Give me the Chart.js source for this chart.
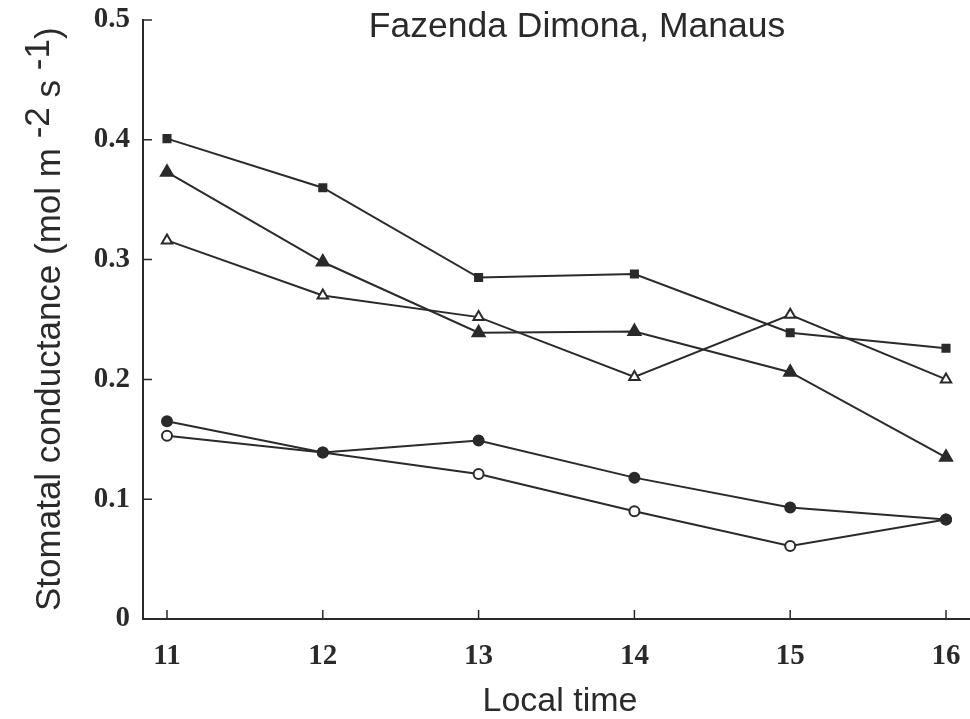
<!DOCTYPE html>
<html>
<head>
<meta charset="utf-8">
<script src="https://cdn.jsdelivr.net/npm/chart.js@4.4.1/dist/chart.umd.min.js"></script>
<style>
  body { margin: 0; background: #fff; }
  #wrap { width: 970px; height: 719px; }
</style>
</head>
<body>
<div id="wrap"><canvas id="chart" width="970" height="719"></canvas></div>
<script>
// local time (h)
const hours = [11, 12, 13, 14, 15, 16]
const yTicks = [0, 0.1, 0.2, 0.3, 0.4, 0.5]

// stomatal conductance, mol m-2 s-1
const filledSquare   = [0.401, 0.360, 0.285, 0.288, 0.239, 0.226]
const filledTriangle = [0.373, 0.298, 0.239, 0.240, 0.206, 0.135]
const openTriangle   = [0.316, 0.270, 0.252, 0.202, 0.254, 0.200]
const filledCircle   = [0.165, 0.139, 0.149, 0.118, 0.093, 0.083]
const openCircle     = [0.153, 0.139, 0.121, 0.090, 0.061, 0.083]

const ink = '#2a2a2a'
const serifBold = { family: '"Liberation Serif", "Times New Roman", serif', size: 29, weight: 'bold' }
const sans = '"Liberation Sans", Arial, sans-serif'

function toPoints(values) {
  return hours.map((h, i) => ({ x: h, y: values[i] }))
}

function makeSeries(label, values, style, filled, radius) {
  return {
    label: label,
    data: toPoints(values),
    borderColor: ink,
    borderWidth: 2,
    pointStyle: style,
    pointRadius: radius,
    pointBorderWidth: 2,
    pointBorderColor: ink,
    pointBackgroundColor: filled ? ink : '#fff',
    showLine: true,
    tension: 0
  }
}

// inward tick marks, like the original plot
const inwardTicks = {
  id: 'inwardTicks',
  afterDraw(chart) {
    const ctx = chart.ctx
    const xs = chart.scales.x
    const ys = chart.scales.y
    const area = chart.chartArea
    ctx.save()
    ctx.strokeStyle = ink
    ctx.lineWidth = 1.5
    ctx.beginPath()
    for (const h of hours) {
      const px = xs.getPixelForValue(h)
      ctx.moveTo(px, area.bottom)
      ctx.lineTo(px, area.bottom - 9)
    }
    for (const v of yTicks) {
      if (v === 0) continue
      const py = ys.getPixelForValue(v)
      ctx.moveTo(area.left, py)
      ctx.lineTo(area.left + 9, py)
    }
    ctx.stroke()
    ctx.restore()
  }
}

// titles: plot title inside the frame, y title with raised exponents
const titles = {
  id: 'titles',
  afterDraw(chart) {
    const ctx = chart.ctx
    ctx.save()
    ctx.fillStyle = ink
    ctx.textAlign = 'center'
    ctx.textBaseline = 'alphabetic'
    ctx.font = '35.5px ' + sans
    ctx.fillText('Fazenda Dimona, Manaus', 577, 37)

    ctx.font = '34px ' + sans
    ctx.fillText('Local time', 560, 711)

    // rotated y title
    const parts = [
      ['Stomatal conductance (mol m ', 0],
      ['-2', 11],
      [' s ', 0],
      ['-1', 11],
      [')', 0]
    ]
    ctx.translate(60, 611)
    ctx.rotate(-Math.PI / 2)
    ctx.textAlign = 'left'
    ctx.font = '35px ' + sans
    let x = 0
    for (const [txt, rise] of parts) {
      ctx.fillText(txt, x, -rise)
      x += ctx.measureText(txt).width
    }
    ctx.restore()
  }
}

new Chart(document.getElementById('chart'), {
  type: 'scatter',
  data: {
    datasets: [
      makeSeries('filled squares', filledSquare, 'rect', true, 5),
      makeSeries('filled triangles', filledTriangle, 'triangle', true, 7),
      makeSeries('open triangles', openTriangle, 'triangle', false, 6),
      makeSeries('filled circles', filledCircle, 'circle', true, 5),
      makeSeries('open circles', openCircle, 'circle', false, 5)
    ]
  },
  options: {
    responsive: false,
    animation: false,
    layout: { autoPadding: false, padding: { top: 20, right: 0, left: 0, bottom: 0 } },
    plugins: {
      legend: { display: false },
      tooltip: { enabled: false },
      title: { display: false }
    },
    scales: {
      x: {
        type: 'linear',
        min: 10.846,
        max: 16.154,
        afterBuildTicks: scale => { scale.ticks = hours.map(h => ({ value: h })) },
        afterFit: scale => {
          scale.height = 100
          scale.paddingLeft = 0
          scale.paddingRight = 0
        },
        grid: { display: false, drawTicks: false },
        border: { display: true, color: ink, width: 2 },
        ticks: {
          color: ink,
          font: serifBold,
          padding: 20,
          callback: v => String(v)
        }
      },
      y: {
        type: 'linear',
        min: 0,
        max: 0.5,
        afterBuildTicks: scale => { scale.ticks = yTicks.map(v => ({ value: v })) },
        afterFit: scale => {
          scale.width = 143
          scale.paddingTop = 0
          scale.paddingBottom = 0
        },
        grid: { display: false, drawTicks: false },
        border: { display: true, color: ink, width: 2 },
        ticks: {
          color: ink,
          font: serifBold,
          padding: 13,
          callback: v => v === 0 ? '0' : v.toFixed(1)
        }
      }
    }
  },
  plugins: [inwardTicks, titles]
})
</script>
</body>
</html>
